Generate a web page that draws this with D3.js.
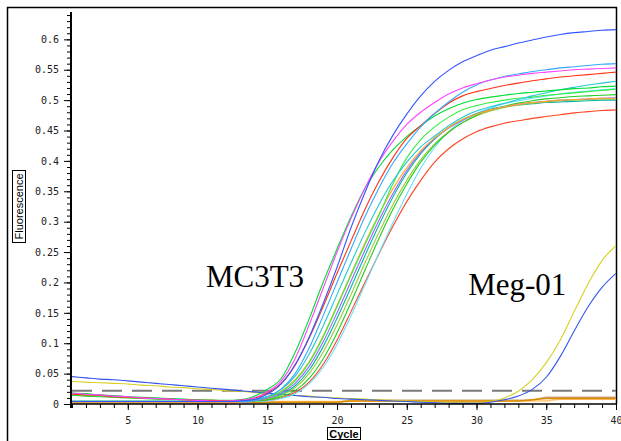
<!DOCTYPE html>
<html><head><meta charset="utf-8">
<script src="https://cdn.jsdelivr.net/npm/d3@7"></script>
<style>body{margin:0;background:#fff} svg{display:block}</style>
</head><body>
<svg id="chart" width="621" height="441"></svg>
<script>
// ---------- data ----------
const cycles = [1,2,3,4,5,6,7,8,9,10,11,12,13,14,15,16,17,18,19,20,21,22,23,24,25,26,27,28,29,30,31,32,33,34,35,36,37,38,39,40];

const blueTop   = [0.004,0.004,0.004,0.004,0.004,0.004,0.004,0.004,0.004,0.004,0.004,0.004,0.005,0.007,0.016,0.033,0.065,0.110,0.165,0.225,0.290,0.348,0.400,0.442,0.477,0.507,0.531,0.549,0.563,0.573,0.582,0.588,0.594,0.599,0.604,0.608,0.611,0.613,0.615,0.616];
const lightBlue = [0.004,0.004,0.004,0.004,0.004,0.004,0.004,0.004,0.004,0.004,0.004,0.004,0.004,0.006,0.012,0.025,0.050,0.092,0.145,0.200,0.255,0.308,0.355,0.396,0.428,0.456,0.478,0.497,0.513,0.525,0.533,0.539,0.543,0.547,0.550,0.553,0.555,0.557,0.559,0.560];
const magenta   = [0.018,0.016,0.015,0.013,0.012,0.010,0.009,0.008,0.007,0.006,0.005,0.005,0.006,0.010,0.020,0.038,0.075,0.130,0.190,0.250,0.305,0.355,0.398,0.432,0.460,0.480,0.496,0.510,0.520,0.527,0.533,0.538,0.541,0.544,0.546,0.548,0.550,0.551,0.552,0.553];
const redUpper  = [0.016,0.015,0.014,0.012,0.011,0.010,0.009,0.008,0.007,0.006,0.006,0.005,0.006,0.009,0.018,0.034,0.064,0.108,0.160,0.215,0.268,0.320,0.366,0.405,0.437,0.458,0.478,0.495,0.507,0.514,0.519,0.524,0.528,0.532,0.535,0.538,0.540,0.542,0.544,0.546];
const cyan      = [0.004,0.004,0.004,0.004,0.004,0.004,0.004,0.004,0.004,0.004,0.004,0.004,0.004,0.006,0.012,0.024,0.046,0.082,0.128,0.180,0.232,0.282,0.328,0.367,0.398,0.423,0.441,0.458,0.472,0.482,0.489,0.495,0.501,0.507,0.512,0.517,0.521,0.525,0.528,0.531];
const green1    = [0.018,0.017,0.015,0.014,0.012,0.011,0.010,0.009,0.008,0.007,0.006,0.006,0.007,0.012,0.024,0.042,0.085,0.140,0.200,0.255,0.308,0.355,0.390,0.418,0.440,0.458,0.474,0.486,0.495,0.501,0.505,0.508,0.511,0.513,0.515,0.517,0.519,0.520,0.522,0.523];
const green2    = [0.015,0.014,0.013,0.012,0.011,0.010,0.009,0.008,0.007,0.006,0.006,0.005,0.006,0.007,0.012,0.020,0.038,0.068,0.110,0.160,0.212,0.262,0.310,0.362,0.405,0.435,0.456,0.472,0.484,0.491,0.496,0.500,0.503,0.505,0.508,0.510,0.512,0.514,0.516,0.518];
const purple    = [0.003,0.003,0.003,0.003,0.003,0.003,0.003,0.003,0.003,0.003,0.003,0.003,0.003,0.005,0.010,0.018,0.034,0.062,0.102,0.150,0.202,0.253,0.302,0.346,0.384,0.414,0.437,0.454,0.467,0.477,0.484,0.489,0.493,0.496,0.498,0.500,0.501,0.502,0.503,0.504];
const orange    = [0.003,0.003,0.003,0.003,0.003,0.003,0.003,0.003,0.003,0.003,0.003,0.003,0.003,0.006,0.011,0.021,0.040,0.070,0.112,0.162,0.214,0.265,0.312,0.354,0.389,0.417,0.438,0.455,0.468,0.477,0.484,0.489,0.493,0.496,0.498,0.500,0.501,0.502,0.503,0.503];
const olive     = [0.004,0.004,0.004,0.004,0.004,0.004,0.004,0.004,0.004,0.004,0.004,0.004,0.004,0.005,0.008,0.014,0.027,0.050,0.085,0.130,0.180,0.232,0.282,0.328,0.368,0.402,0.428,0.448,0.463,0.474,0.482,0.488,0.492,0.495,0.497,0.499,0.500,0.501,0.502,0.502];
const teal      = [0.005,0.005,0.005,0.005,0.005,0.005,0.005,0.005,0.005,0.005,0.005,0.005,0.005,0.006,0.009,0.016,0.030,0.056,0.094,0.141,0.192,0.244,0.294,0.340,0.380,0.412,0.436,0.455,0.468,0.478,0.485,0.489,0.492,0.494,0.496,0.497,0.498,0.499,0.500,0.500];
const green3    = [0.014,0.013,0.012,0.011,0.010,0.009,0.008,0.008,0.007,0.006,0.006,0.005,0.005,0.005,0.007,0.012,0.022,0.042,0.074,0.117,0.167,0.220,0.272,0.320,0.362,0.398,0.426,0.447,0.463,0.475,0.484,0.490,0.495,0.499,0.502,0.504,0.506,0.507,0.508,0.509];
const redLow    = [0.004,0.004,0.004,0.004,0.004,0.004,0.004,0.004,0.004,0.004,0.004,0.004,0.004,0.004,0.006,0.010,0.019,0.036,0.065,0.105,0.152,0.200,0.247,0.292,0.333,0.368,0.398,0.420,0.436,0.448,0.456,0.462,0.466,0.470,0.473,0.476,0.479,0.481,0.483,0.484];
const lightCyan = [0.003,0.003,0.003,0.003,0.003,0.003,0.003,0.003,0.003,0.003,0.003,0.003,0.003,0.004,0.005,0.009,0.017,0.033,0.060,0.098,0.145,0.196,0.248,0.298,0.345,0.388,0.422,0.448,0.466,0.478,0.487,0.494,0.499,0.503,0.507,0.510,0.513,0.515,0.517,0.519];

const megBlue   = [0.045,0.043,0.041,0.040,0.038,0.036,0.034,0.032,0.030,0.028,0.026,0.024,0.022,0.020,0.018,0.016,0.014,0.012,0.011,0.009,0.008,0.007,0.006,0.005,0.004,0.003,0.002,0.001,0.001,0.001,0.003,0.007,0.013,0.024,0.044,0.078,0.120,0.160,0.192,0.215];
const megYellow = [0.037,0.036,0.035,0.034,0.033,0.031,0.030,0.028,0.027,0.025,0.024,0.022,0.021,0.019,0.017,0.016,0.014,0.013,0.011,0.010,0.009,0.008,0.007,0.006,0.005,0.004,0.003,0.003,0.002,0.002,0.004,0.010,0.021,0.040,0.068,0.105,0.152,0.198,0.236,0.261];

const ntcDark   = [0.002,0.002,0.002,0.002,0.002,0.002,0.002,0.002,0.002,0.002,0.002,0.002,0.003,0.003,0.003,0.003,0.003,0.003,0.003,0.003,0.005,0.005,0.005,0.005,0.005,0.005,0.005,0.005,0.005,0.005,0.005,0.005,0.005,0.007,0.009,0.009,0.009,0.009,0.009,0.009];
const ntcTan    = [0.003,0.003,0.003,0.003,0.003,0.003,0.003,0.003,0.003,0.003,0.003,0.003,0.003,0.003,0.003,0.003,0.003,0.003,0.003,0.003,0.006,0.006,0.006,0.006,0.006,0.006,0.006,0.006,0.006,0.006,0.006,0.006,0.006,0.006,0.011,0.011,0.011,0.011,0.011,0.011];
const ntcLight  = [0.004,0.004,0.004,0.004,0.004,0.004,0.004,0.004,0.004,0.004,0.004,0.004,0.004,0.004,0.004,0.004,0.004,0.004,0.004,0.004,0.005,0.005,0.005,0.005,0.005,0.005,0.005,0.005,0.005,0.005,0.005,0.005,0.005,0.005,0.005,0.008,0.008,0.008,0.008,0.008];

const seriesNames  = ["ntcTan","ntcLight","ntcDark","megYellow","megBlue","redLow","lightCyan","teal","olive","green3","purple","orange","green2","cyan","green1","redUpper","lightBlue","magenta","blueTop"];
const seriesValues = [ntcTan,ntcLight,ntcDark,megYellow,megBlue,redLow,lightCyan,teal,olive,green3,purple,orange,green2,cyan,green1,redUpper,lightBlue,magenta,blueTop];
const seriesColors = ["#c8a47a","#ffc870","#d98a00","#d8d020","#3355ee","#ff4422","#66e0ff","#00b8a8","#99cc33","#22cc22","#9966ff","#ffaa22","#33ee44","#22c8d0","#00dd33","#ff3311","#33aaff","#ff44ff","#3355ff"];

const yMajorTicks  = [0,0.05,0.1,0.15,0.2,0.25,0.3,0.35,0.4,0.45,0.5,0.55,0.6];
const yTickLabels  = ["0","0.05","0.1","0.15","0.2","0.25","0.3","0.35","0.4","0.45","0.5","0.55","0.6"];
const yMinorTicks  = [0,0.01,0.02,0.03,0.04,0.05,0.06,0.07,0.08,0.09,0.1,0.11,0.12,0.13,0.14,0.15,0.16,0.17,0.18,0.19,0.2,0.21,0.22,0.23,0.24,0.25,0.26,0.27,0.28,0.29,0.3,0.31,0.32,0.33,0.34,0.35,0.36,0.37,0.38,0.39,0.4,0.41,0.42,0.43,0.44,0.45,0.46,0.47,0.48,0.49,0.5,0.51,0.52,0.53,0.54,0.55,0.56,0.57,0.58,0.59,0.6,0.61,0.62,0.63,0.64];
const xMajorTicks  = [5,10,15,20,25,30,35,40];
const xTickLabels  = ["5","10","15","20","25","30","35","40"];
const threshold    = 0.022;
const labelTexts   = ["MC3T3","Meg-01"];
const labelCycles  = [10.6, 29.4];
const labelValues  = [0.192, 0.179];

// ---------- drawing ----------
const svg = d3.select("#chart");
const x = d3.scaleLinear().domain([1,40]).range([72,616]);
const y = d3.scaleLinear().domain([0,0.645]).range([404,12]);

// outer frame
svg.append("path").attr("d","M7.5,441 V7.5 H616.5 V404").attr("fill","none").attr("stroke","#000").attr("stroke-width",1.5);

svg.append("defs").append("clipPath").attr("id","plotclip")
  .append("rect").attr("x",72).attr("y",8).attr("width",544).attr("height",398);

// threshold
svg.append("line")
  .attr("x1",x(1)).attr("x2",x(40)).attr("y1",y(threshold)).attr("y2",y(threshold))
  .attr("stroke","#7a7a7a").attr("stroke-width",2).attr("stroke-dasharray","20,10");

const line = d3.line().x((d,i)=>x(cycles[i])).y(d=>y(d)).curve(d3.curveMonotoneX);
const g = svg.append("g").attr("clip-path","url(#plotclip)");
g.selectAll("path.curve").data(seriesValues).join("path")
  .attr("class","curve")
  .attr("d",d=>line(d))
  .attr("fill","none")
  .attr("stroke",(d,i)=>seriesColors[i])
  .attr("stroke-width",(d,i)=>seriesNames[i].startsWith("ntc")?1.6:1.1);

// y axis
const yMinor = d3.axisLeft(y).tickValues(yMinorTicks).tickSize(4).tickFormat("");
const yMajor = d3.axisLeft(y).tickValues(yMajorTicks).tickSize(7).tickPadding(5)
  .tickFormat((d,i)=>yTickLabels[i]);
const gyMinor = svg.append("g").attr("transform","translate(71,0)").call(yMinor);
gyMinor.select(".domain").remove();
const gy = svg.append("g").attr("transform","translate(71,0)").call(yMajor);
gy.select(".domain").attr("d","M0,12V408").attr("stroke-width",2);
gy.selectAll("text").attr("font-family","DejaVu Sans Mono").attr("font-size",10).attr("fill","#222");
svg.selectAll("g .tick line").attr("stroke","#000");

// x axis
const xMinor = d3.axisBottom(x).tickValues(cycles).tickSize(4).tickFormat("");
const xMajor = d3.axisBottom(x).tickValues(xMajorTicks).tickSize(6).tickPadding(7)
  .tickFormat((d,i)=>xTickLabels[i]);
const gxMinor = svg.append("g").attr("transform","translate(0,404)").call(xMinor);
gxMinor.select(".domain").remove();
const gx = svg.append("g").attr("transform","translate(0,404)").call(xMajor);
gx.select(".domain").attr("d","M71,0H616").attr("stroke-width",1.5);
gx.selectAll("text").attr("font-family","DejaVu Sans Mono").attr("font-size",10).attr("fill","#222");

// axis titles
svg.append("rect").attr("x",12.5).attr("y",170.5).attr("width",13).attr("height",72)
  .attr("fill","#fff").attr("stroke","#000");
svg.append("text").attr("transform","translate(23,206.5) rotate(-90)")
  .attr("text-anchor","middle").attr("font-family","Liberation Sans").attr("font-size",11)
  .text("Fluorescence");
svg.append("rect").attr("x",327.5).attr("y",427.5).attr("width",33).attr("height",12)
  .attr("fill","#fff").attr("stroke","#000");
svg.append("text").attr("x",344).attr("y",437.5)
  .attr("text-anchor","middle").attr("font-family","Liberation Sans").attr("font-weight","bold").attr("font-size",11)
  .text("Cycle");

// annotations
svg.selectAll("text.anno").data(labelTexts).join("text")
  .attr("class","anno")
  .attr("x",(d,i)=>x(labelCycles[i])).attr("y",(d,i)=>y(labelValues[i]))
  .attr("font-family","Liberation Serif").attr("font-size",31).attr("fill","#000")
  .text(d=>d);
</script>
</body></html>
